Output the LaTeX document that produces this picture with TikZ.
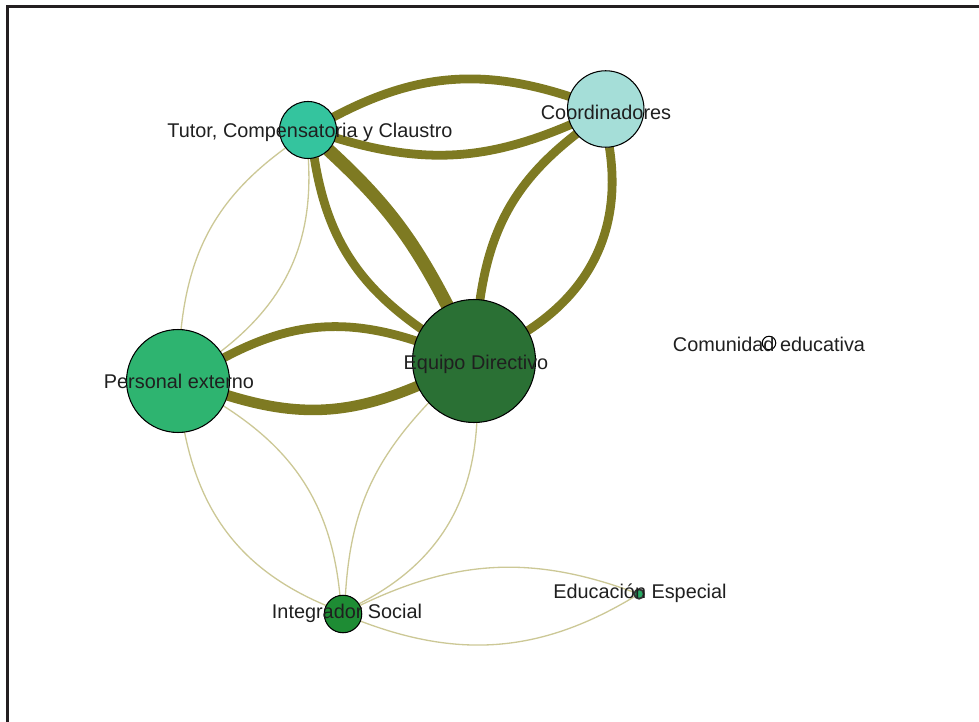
\documentclass[tikz,border=0pt]{standalone}
\usepackage{fontspec}
\setmainfont{Liberation Sans}
\usetikzlibrary{backgrounds}
\definecolor{thickc}{RGB}{126,122,34}
\definecolor{thinc}{RGB}{204,200,150}
\definecolor{framec}{RGB}{35,31,32}
\definecolor{tutc}{RGB}{52,196,158}
\definecolor{coorc}{RGB}{165,222,216}
\definecolor{eqc}{RGB}{42,112,52}
\definecolor{perc}{RGB}{46,180,112}
\definecolor{intc}{RGB}{30,140,52}
\definecolor{eec}{RGB}{40,170,100}
\begin{document}
\begin{tikzpicture}[x=0.02cm,y=0.02cm,
  vtx/.style={circle,draw=black,line width=0.6pt,inner sep=0pt,outer sep=0pt},
  lbl/.style={font=\fontsize{11.3}{13}\selectfont,text=black!88,inner sep=0pt,anchor=base},
  strong/.style={draw=thickc,line width=5pt},
  weak/.style={draw=thinc,line width=0.75pt}]
\useasboundingbox (0,0) rectangle (979,-722);
\draw[line width=1.9pt,draw=framec] (7.6,-722) -- (7.6,-6.3) -- (979,-6.3);
% vertices
\node[vtx,fill=tutc,minimum size=1.14cm] (T) at (308,-130) {};
\node[vtx,fill=coorc,minimum size=1.53cm] (C) at (605.7,-109) {};
\node[vtx,fill=eqc,minimum size=2.46cm] (E) at (474,-361) {};
\node[vtx,fill=perc,minimum size=2.06cm] (P) at (178,-381) {};
\node[vtx,fill=intc,minimum size=0.75cm] (I) at (343,-614) {};
\node[vtx,fill=white,minimum size=0.27cm] (CE) at (769,-343) {};
\node[vtx,fill=eec,line width=1pt,draw=black!80,minimum size=0.19cm] (EE) at (639,-594) {};
% edges
\begin{scope}[on background layer]
\draw[strong] (T) to[bend left=23] (C);
\draw[strong] (T) to[bend right=20] (C);
\draw[strong] (T) to[bend right=23] (E);
\draw[strong,line width=7.5pt] (T) to[bend left=10] (E);
\draw[strong] (C) to[bend right=22] (E);
\draw[strong] (C) to[bend left=33] (E);
\draw[strong] (P) to[bend left=23] (E);
\draw[strong,line width=6pt] (P) to[bend right=20] (E);
\draw[weak] (T) to[bend right=24] (P);
\draw[weak] (T) to[bend left=28] (P);
\draw[weak] (P) to[bend right=28] (I);
\draw[weak] (P) to[bend left=26] (I);
\draw[weak] (E) to[bend right=20] (I);
\draw[weak] (E) to[bend left=30] (I);
\draw[weak] (I) to[bend left=23] (EE);
\draw[weak] (I) to[bend right=26] (EE);
\end{scope}
% labels
\node[lbl] (Tl) at (310,-137.5) {Tutor, Compensatoria y Claustro};
\node[lbl] (Cl) at (606,-119.3) {Coordinadores};
\node[lbl] (El) at (476,-369) {Equipo Directivo};
\node[lbl] (Pl) at (179,-388.3) {Personal externo};
\node[lbl] (CEl) at (769,-351.7) {Comunidad educativa};
\node[lbl] (EEl) at (640,-598.3) {Educación Especial};
\node[lbl] (Il) at (347,-618.3) {Integrador Social};
\end{tikzpicture}
\end{document}
